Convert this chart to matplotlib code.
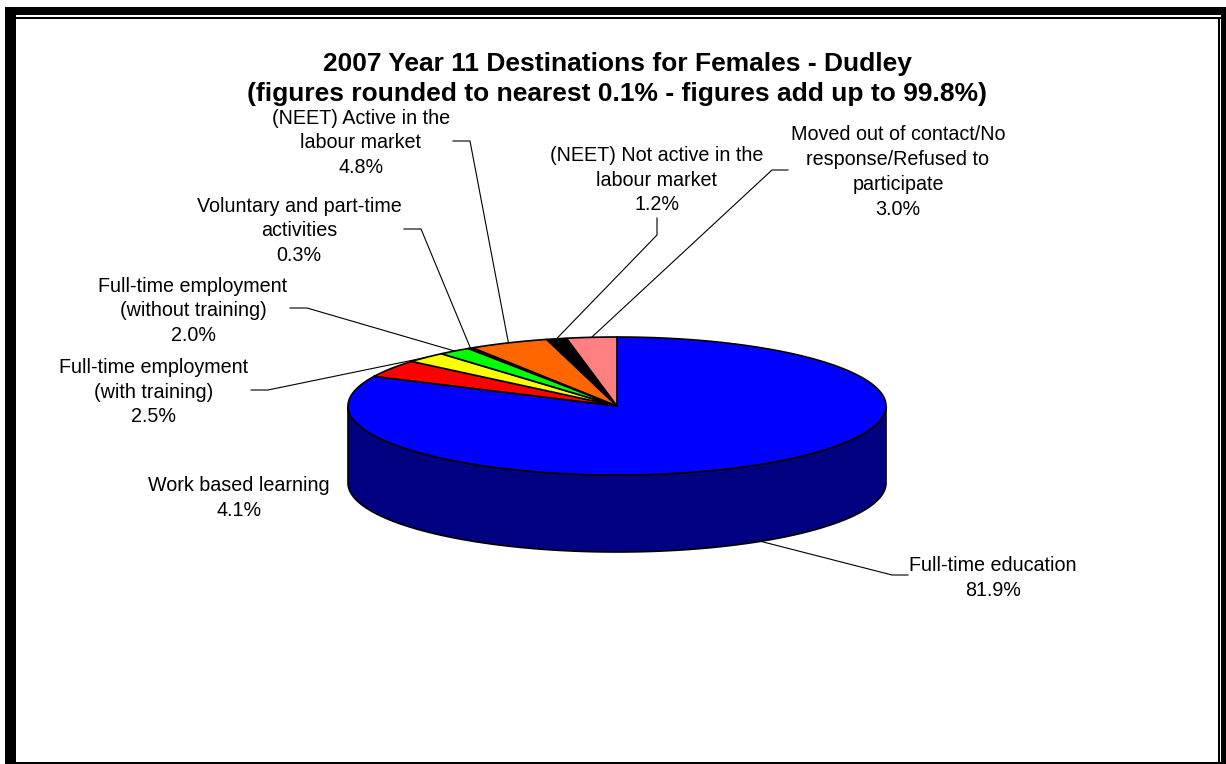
import numpy as np
import matplotlib
matplotlib.use('Agg')
import matplotlib.pyplot as plt
from matplotlib.patches import Polygon, Rectangle

plt.rcParams['font.family'] = ['Liberation Sans', 'DejaVu Sans']

title = "2007 Year 11 Destinations for Females - Dudley\n(figures rounded to nearest 0.1% - figures add up to 99.8%)"
categories = ["Full-time education", "Work based learning",
              "Full-time employment\n(with training)",
              "Full-time employment\n(without training)",
              "Voluntary and part-time\nactivities",
              "(NEET) Active in the\nlabour market",
              "(NEET) Not active in the\nlabour market",
              "Moved out of contact/No\nresponse/Refused to\nparticipate"]
values = [81.9, 4.1, 2.5, 2.0, 0.3, 4.8, 1.2, 3.0]
colors = ['#0000ff', '#ff0000', '#ffff00', '#00ff00', '#660066', '#ff6600', '#000000', '#ff8080']

# label centre, then the elbow points of the leader (None = no leader)
label_pos = [(993, 578), (239, 498), (154, 392), (193, 311), (299, 231), (361, 143), (657, 180), (898, 172)]
elbows = [[(908, 575), (892, 575)], None, [(251, 390), (268, 390)], [(290, 308), (307, 308)],
          [(404, 229), (421, 229)], [(453, 141), (470, 141)], [(657, 218), (657, 235)], [(788, 170), (772, 170)]]

# pie geometry in pixels
cx, cy = 617, 406
a, b = 269, 69
depth = 77


def rim(t):
    return cx + a * np.sin(t), cy - b * np.cos(t)


fig = plt.figure(figsize=(12.26, 7.64), dpi=100)
ax = fig.add_axes([0, 0, 1, 1])
ax.set_xlim(0, 1226)
ax.set_ylim(764, 0)
ax.axis('off')

# double border
ax.add_patch(Rectangle((5, 7), 1221, 8, color='k', lw=0))
ax.add_patch(Rectangle((5, 17), 1221, 2, color='k', lw=0))
ax.add_patch(Rectangle((5, 7), 11, 757, color='k', lw=0))
ax.add_patch(Rectangle((1218, 17), 2, 747, color='k', lw=0))
ax.add_patch(Rectangle((1221, 7), 5, 757, color='k', lw=0))
ax.add_patch(Rectangle((5, 762), 1221, 2, color='k', lw=0))

# side wall
t = np.linspace(np.pi / 2, 3 * np.pi / 2, 200)
x, y = rim(t)
wall = np.vstack([np.column_stack([x, y]), np.column_stack([x[::-1], y[::-1] + depth])])
ax.add_patch(Polygon(wall, closed=True, fc='#000080', ec='k', lw=1.2))

# top slices
edges = np.cumsum([0] + values) / sum(values) * 2 * np.pi
for i in range(len(values)):
    t = np.linspace(edges[i], edges[i + 1], 200)
    x, y = rim(t)
    pts = np.vstack([[cx, cy], np.column_stack([x, y])])
    ax.add_patch(Polygon(pts, closed=True, fc=colors[i], ec='k', lw=1.2, joinstyle='round'))

# leaders and labels
for i in range(len(values)):
    mid = (edges[i] + edges[i + 1]) / 2
    ex, ey = rim(mid)
    if np.cos(mid) < 0:
        ey += depth
    if elbows[i]:
        px = [p[0] for p in elbows[i]] + [ex]
        py = [p[1] for p in elbows[i]] + [ey]
        ax.plot(px, py, color='k', lw=0.8, zorder=1)
    ax.text(label_pos[i][0], label_pos[i][1], categories[i] + "\n" + f"{values[i]:.1f}%",
            ha='center', va='center', fontsize=14.2, linespacing=1.39)

ax.text(617, 79, title, ha='center', va='center', fontsize=19, fontweight='bold', linespacing=1.3)

fig.savefig('out.png', dpi=100)
